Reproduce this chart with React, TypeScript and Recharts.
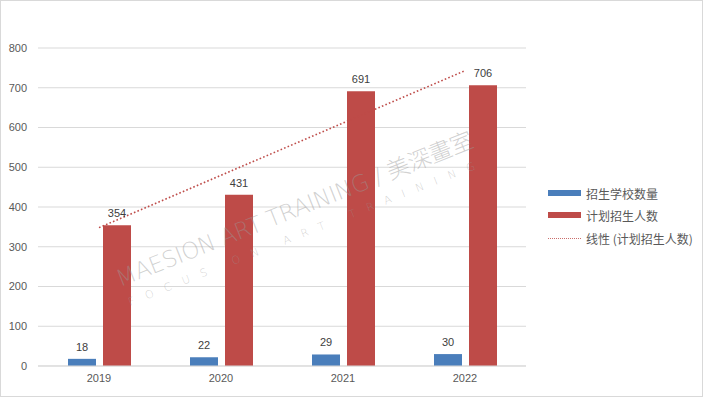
import React from "react";
import { ComposedChart, Bar, Line, XAxis, YAxis, CartesianGrid, LabelList } from "recharts";

const years = ["2019", "2020", "2021", "2022"];
const schoolCounts = [18, 22, 29, 30];
const planEnrollment = [354, 431, 691, 706];
const yTicks = [0, 100, 200, 300, 400, 500, 600, 700, 800];

const seriesNames = ["招生学校数量", "计划招生人数", "线性 (计划招生人数)"];
const BLUE = "#4A7EBB";
const RED = "#BE4B48";

// Linear trendline (least squares) of the enrollment series, as Excel computes it
const n = planEnrollment.length;
const xs = planEnrollment.map((_, i) => i + 1);
const mx = xs.reduce((a, b) => a + b, 0) / n;
const my = planEnrollment.reduce((a, b) => a + b, 0) / n;
const slope =
  xs.reduce((s, x, i) => s + (x - mx) * (planEnrollment[i] - my), 0) /
  xs.reduce((s, x) => s + (x - mx) * (x - mx), 0);
const intercept = my - slope * mx;

const data = years.map((y, i) => ({
  year: y,
  schools: schoolCounts[i],
  plan: planEnrollment[i],
  trend: intercept + slope * xs[i],
}));

const FONT = "'Liberation Sans', 'Noto Sans CJK SC', sans-serif";

export default function App() {
  return (
    <div style={{ position: "absolute", left: 0, top: 0, width: 704, height: 397, background: "#fff", fontFamily: FONT }}>
      <ComposedChart
        width={704}
        height={397}
        data={data}
        margin={{ top: 48, right: 178, bottom: 1, left: 0 }}
        barGap={7}
      >
        <CartesianGrid vertical={false} stroke="#D9D9D9" strokeWidth={1} />
        <XAxis
          dataKey="year"
          axisLine={{ stroke: "#D9D9D9" }}
          tickLine={false}
          height={30}
          tick={{ fill: "#595959", fontSize: 11, fontFamily: FONT }}
        />
        <YAxis
          domain={[0, 800]}
          ticks={yTicks}
          width={38}
          axisLine={false}
          tickLine={false}
          tickMargin={5}
          tick={{ fill: "#595959", fontSize: 11, fontFamily: FONT }}
        />
        <Bar dataKey="schools" name={seriesNames[0]} fill={BLUE} barSize={28} isAnimationActive={false}>
          <LabelList dataKey="schools" position="top" offset={8} fill="#404040" fontSize={11} fontFamily={FONT} />
        </Bar>
        <Bar dataKey="plan" name={seriesNames[1]} fill={RED} barSize={28} isAnimationActive={false}>
          <LabelList dataKey="plan" position="top" offset={8} fill="#404040" fontSize={11} fontFamily={FONT} />
        </Bar>
        <Line
          dataKey="trend"
          name={seriesNames[2]}
          type="linear"
          stroke={RED}
          strokeWidth={1.6}
          strokeDasharray="1.6 2.2"
          dot={false}
          activeDot={false}
          isAnimationActive={false}
        />
      </ComposedChart>

      {/* watermark */}
      <svg width={704} height={397} style={{ position: "absolute", left: 0, top: 0, pointerEvents: "none" }}>
        <text
          x={120}
          y={287}
          transform="rotate(-21.6 120 287)"
          textLength={382}
          lengthAdjust="spacing"
          fontSize={23}
          fontWeight={200}
          fill="#9a9a9a"
          fillOpacity={0.45}
          fontFamily="'DejaVu Sans', 'Noto Sans CJK TC', sans-serif"
        >
          MAESION ART TRAINING / 美深畫室
        </text>
        <text
          x={130}
          y={306}
          transform="rotate(-21.6 130 306)"
          textLength={372}
          lengthAdjust="spacing"
          fontSize={11}
          fontWeight={200}
          fill="#9a9a9a"
          fillOpacity={0.45}
          fontFamily="'DejaVu Sans', sans-serif"
        >
          FOCUS ON ART TRAINING
        </text>
      </svg>

      {/* legend */}
      <div style={{ position: "absolute", left: 548, top: 0, width: 156, height: 397, pointerEvents: "none" }}>
        {[
          { name: seriesNames[0], type: "bar", color: BLUE, y: 193 },
          { name: seriesNames[1], type: "bar", color: RED, y: 215 },
          { name: seriesNames[2], type: "line", color: RED, y: 238 },
        ].map((e) => (
          <div key={e.name} style={{ position: "absolute", left: 0, top: e.y - 9, height: 18, display: "flex", alignItems: "center" }}>
            {e.type === "bar" ? (
              <div style={{ width: 33, height: 6, background: e.color }} />
            ) : (
              <div style={{ width: 33, height: 0, borderTop: `1.5px dotted ${e.color}`, opacity: 0.8 }} />
            )}
            <span style={{ marginLeft: 5, fontSize: 12, color: "#595959", whiteSpace: "nowrap", fontFamily: "'Noto Sans CJK SC', sans-serif" }}>
              {e.name}
            </span>
          </div>
        ))}
      </div>

      {/* chart border */}
      <div style={{ position: "absolute", left: 0, top: 0, width: 703, height: 397, boxSizing: "border-box", border: "1px solid #D9D9D9", pointerEvents: "none" }} />
    </div>
  );
}
